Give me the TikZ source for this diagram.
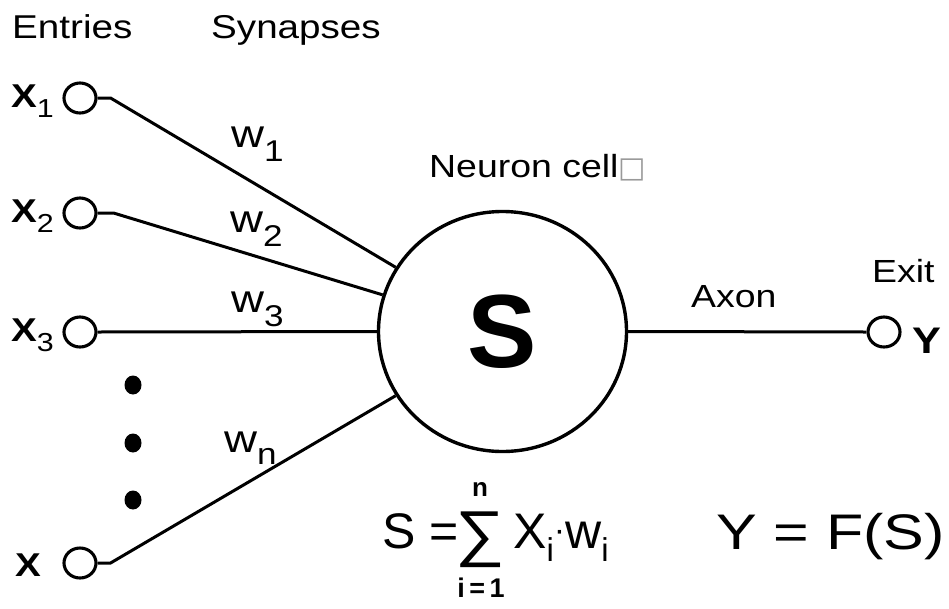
\documentclass[tikz,border=0pt]{standalone}
\usepackage{fontspec}
\setmainfont{Liberation Sans}
\newfontfamily\symfont{DejaVu Sans}
\usetikzlibrary{shapes.geometric}
\newcommand{\fsz}[1]{\fontsize{#1}{#1}\selectfont}
\newcommand{\wide}[1]{\scalebox{1.17}[1]{#1}}
\begin{document}
\begin{tikzpicture}[x=1pt,y=-1pt,
  port/.style={ellipse,draw,line width=3.1pt,minimum width=32pt,minimum height=30pt,inner sep=0pt},
  cell/.style={ellipse,draw,line width=3.4pt,minimum width=248pt,minimum height=240pt,inner sep=0pt},
  wire/.style={line width=3pt},
  lbl/.style={inner sep=0pt,anchor=base west},
  dot/.style={fill=black}]
\useasboundingbox[fill=white] (0,0) rectangle (949,608);

% headings
\node[lbl] (entries) at (12,38) {\fsz{33}\wide{Entries}};
\node[lbl] (synapses) at (211,38) {\fsz{33}\wide{Synapses}};
\node[lbl] (neuronlbl) at (429,177) {\fsz{32}\wide{Neuron cell}{\symfont\color{black!40}\fsz{29}□}};
\node[lbl] (axon) at (691,307) {\fsz{32}\wide{Axon}};
\node[lbl] (exit) at (872,282) {\fsz{32}\wide{Exit}};

% input ports
\node[port] (x1) at (80,98) {};
\node[port] (x2) at (80,213) {};
\node[port] (x3) at (80,332) {};
\node[port] (xn) at (80,563) {};
\node[port] (y) at (884,332) {};

% input labels
\node[lbl] (lx1) at (11,107) {{\fsz{33}\bfseries\wide{X}}\raisebox{-10pt}{\fsz{26}\wide{1}}};
\node[lbl] (lx2) at (11,222) {{\fsz{33}\bfseries\wide{X}}\raisebox{-10pt}{\fsz{26}\wide{2}}};
\node[lbl] (lx3) at (11,341) {{\fsz{33}\bfseries\wide{X}}\raisebox{-10pt}{\fsz{26}\wide{3}}};
\node[lbl] (lxn) at (15,576) {{\fsz{33}\bfseries\wide{X}}};
\node[lbl] (ly) at (912,353) {{\fsz{37}\bfseries\wide{Y}}};

% neuron
\node[cell] (s) at (502.5,331.5) {\fsz{104}\bfseries S};

% connectors
\draw[wire] (x1.east) -- ++(13,0) -- (s.149);
\draw[wire] (x2.east) -- ++(16,0) -- (s.163.5);
\draw[wire] (x3.east) -- (s.west);
\draw[wire] (xn.east) -- ++(13,0) -- (s.211);
\draw[wire] (s.east) -- (y.west);

% weights
\node[lbl] (w1) at (231,147) {{\fsz{39}\wide{w}}\raisebox{-14pt}{\fsz{30}\wide{1}}};
\node[lbl] (w2) at (230,232) {{\fsz{39}\wide{w}}\raisebox{-14pt}{\fsz{30}\wide{2}}};
\node[lbl] (w3) at (231,312) {{\fsz{39}\wide{w}}\raisebox{-14pt}{\fsz{30}\wide{3}}};
\node[lbl] (wn) at (224,452) {{\fsz{39}\wide{w}}\raisebox{-12pt}{\fsz{30}\wide{n}}};

% ellipsis dots
\fill[dot] (133,385) ellipse [x radius=8.5, y radius=9.5];
\fill[dot] (133,443) ellipse [x radius=8.5, y radius=9.5];
\fill[dot] (133,500) ellipse [x radius=8.5, y radius=9.5];

% formula
\node[lbl] (seq) at (382,548) {\fsz{50}S =};
\node[inner sep=0pt] (sigma) at (480,540) {\fsz{62}\scalebox{1.12}[1]{∑}};
\node[inner sep=0pt] (sn) at (480,489) {\fsz{26}\bfseries n};
\node[inner sep=0pt] (si) at (481,588) {\fsz{27}\bfseries i\,=\,1};
\node[lbl] (sx) at (513,548) {{\fsz{50}X}\raisebox{-13pt}{\fsz{33}i}\raisebox{7pt}{\fsz{34}·}{\fsz{50}w}\raisebox{-13pt}{\fsz{33}i}};
\node[lbl] (yf) at (716,549) {\fsz{50}\scalebox{1.22}[1]{Y = F(S)}};
\end{tikzpicture}
\end{document}
